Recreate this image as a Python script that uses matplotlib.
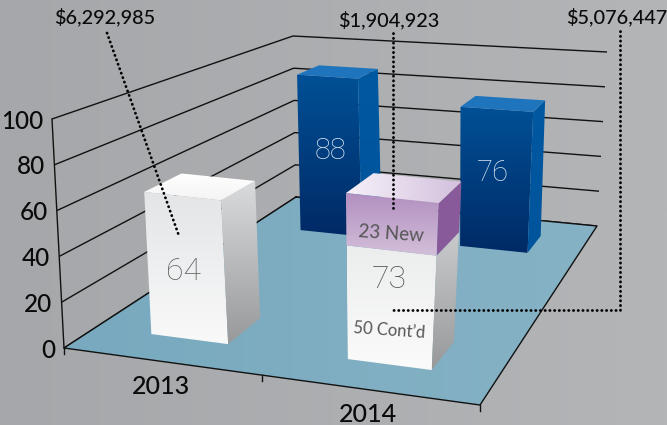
import numpy as np
import matplotlib
matplotlib.use('Agg')
import matplotlib.pyplot as plt
from matplotlib.colors import to_rgb
from matplotlib.patches import Polygon

plt.rcParams['font.family'] = ['Lato', 'DejaVu Sans']

# chart values
years = ['2013', '2014']
yticks = [0, 20, 40, 60, 80, 100]
back_values = [88, 76]
front_2013 = 64
front_2014_parts = [50, 23]
front_2014_total = 73
part_labels = ["50 Cont\u2019d", '23 New']
amounts = ['$6,292,985', '$1,904,923', '$5,076,447']

# footprints on the floor (u0, u1, v0, v1), floor runs 0-1 each way
foot_88 = (0.157, 0.353, 0.755, 0.885)
foot_76 = (0.656, 0.858, 0.760, 0.885)
foot_64 = (0.148, 0.349, 0.103, 0.234)
foot_73 = (0.647, 0.848, 0.106, 0.235)

# where the floor and the z=100 plane land in the picture (A, B, C, D)
floor_quad = [(64, 348), (480, 405), (597, 226), (296, 197)]
ceil_quad = [(52, 119), (504, 168), (607, 52), (293, 36)]


def homography(q):
    (x0, y0), (x1, y1), (x2, y2), (x3, y3) = q
    a = np.array([[x1 - x2, x3 - x2], [y1 - y2, y3 - y2]], float)
    s = np.array([x0 - x1 + x2 - x3, y0 - y1 + y2 - y3], float)
    g, h = np.linalg.solve(a, s)
    return np.array([[x1 - x0 + g * x1, x3 - x0 + h * x3, x0],
                     [y1 - y0 + g * y1, y3 - y0 + h * y3, y0],
                     [g, h, 1.0]])


H_floor = homography(floor_quad)
H_ceil = homography(ceil_quad)


def proj(u, v, z=0):
    f = H_floor @ [u, v, 1]
    c = H_ceil @ [u, v, 1]
    f = f[:2] / f[2]
    c = c[:2] / c[2]
    return tuple(f + (c - f) * z / 100)


fig = plt.figure(figsize=(6.67, 4.25), dpi=100)
ax = fig.add_axes([0, 0, 1, 1])
ax.set_autoscale_on(False)
ax.set_xlim(0, 667)
ax.set_ylim(425, 0)
ax.axis('off')

order = [1]


def gradient(pts, c1, c2, horizontal=False):
    # polygon filled with a linear gradient
    order[0] += 1
    pts = np.array(pts)
    t = np.linspace(0, 1, 64)[:, None]
    img = np.array(to_rgb(c1)) * (1 - t) + np.array(to_rgb(c2)) * t
    img = img[None, :, :] if horizontal else img[:, None, :]
    x0, y0 = pts.min(axis=0)
    x1, y1 = pts.max(axis=0)
    im = ax.imshow(img, extent=(x0, x1, y1, y0), aspect='auto', zorder=order[0], interpolation='bilinear')
    clip = Polygon(pts, closed=True, transform=ax.transData, fc='none', ec='none')
    ax.add_patch(clip)
    im.set_clip_path(clip)


def bar_segment(foot, z0, z1, front, side):
    u0, u1, v0, v1 = foot
    gradient([proj(u0, v0, z0), proj(u1, v0, z0), proj(u1, v0, z1), proj(u0, v0, z1)], front[0], front[1])
    gradient([proj(u1, v0, z0), proj(u1, v1, z0), proj(u1, v1, z1), proj(u1, v0, z1)], side[0], side[1])


def bar_top(foot, z, c1, c2, horizontal=False):
    u0, u1, v0, v1 = foot
    gradient([proj(u0, v0, z), proj(u1, v0, z), proj(u1, v1, z), proj(u0, v1, z)], c1, c2, horizontal)


# background
gradient([(0, 0), (667, 0), (667, 425), (0, 425)], '#a6a7aa', '#b4b5b7', True)

# walls
order[0] += 1
for t in yticks:
    pts = [proj(0, 0, t), proj(0, 1, t), proj(1, 1, t)]
    ax.plot(*zip(*pts), color='#111111', lw=1.0, zorder=order[0], solid_capstyle='butt')
    x, y = proj(0, 0, t)
    ax.text(x - 9, y + 2, str(t), ha='right', va='center', fontsize=17.5, fontweight='medium', color='#0a0a0a', zorder=310)
ax.plot(*zip(proj(0, 0, 100), proj(0, 0, 0)), color='#111111', lw=1.0, zorder=order[0])

# floor
gradient(floor_quad, '#78a9be', '#86b2c5', True)
order[0] += 1
ax.plot(*zip(*[proj(0, 1), proj(1, 1), proj(1, 0), proj(0, 0), proj(0, 1)]), color='#111111', lw=1.0, zorder=order[0])
for u in [0, 0.5, 1]:
    x, y = proj(u, 0)
    ax.plot([x, x], [y, y + 6], color='#111111', lw=1.0, zorder=order[0])

blue_front = ('#005096', '#002a66')
blue_side = ('#0059a2', '#00549b')
blue_top = '#1f75bd'
white_front = ('#e3e5e7', '#f9f9f9')
white_side = ('#dadbdc', '#98999b')

# back row
for foot, val in zip([foot_88, foot_76], back_values):
    bar_segment(foot, 0, val, blue_front, blue_side)
    bar_top(foot, val, blue_top, blue_top)

# front row
bar_segment(foot_64, 0, front_2013, white_front, white_side)
bar_top(foot_64, front_2013, '#ffffff', '#f4f4f4')

bar_segment(foot_73, 0, front_2014_parts[0], ('#eceded', '#fbfbfb'), ('#c9cacb', '#98999b'))
bar_segment(foot_73, front_2014_parts[0], sum(front_2014_parts), ('#b28fc0', '#d3bfda'), ('#8a5b9a', '#895a99'))
bar_top(foot_73, sum(front_2014_parts), '#f6f1f9', '#d3c0dd', True)

# leaders
dots = dict(color='black', lw=2.0, linestyle=(0, (0.1, 1.6)), dash_capstyle='round', zorder=300)
ax.plot([107, 179], [33, 236], **dots)
ax.plot([393, 393], [33, 210], **dots)
ax.plot([620, 620, 391], [31, 310, 310], **dots)

# text
label = dict(ha='center', va='center', color='#0a0a0a', zorder=310, fontweight='medium')
ax.text(105, 17, amounts[0], fontsize=14.3, **label)
ax.text(389, 20, amounts[1], fontsize=14.3, **label)
ax.text(617, 17, amounts[2], fontsize=14.3, **label)
ax.text(161, 387, years[0], fontsize=18, **label)
ax.text(368, 414, years[1], fontsize=18, **label)

thin = dict(ha='center', va='center', zorder=310, family=['Roboto', 'DejaVu Sans'], fontweight='light')
ax.text(184, 272, str(front_2013), fontsize=23, color='#666666', **thin)
ax.text(330, 151, str(back_values[0]), fontsize=21, color='#d5e3ef', **thin)
ax.text(493, 173, str(back_values[1]), fontsize=21, color='#d5e3ef', **thin)
ax.text(389, 279, str(front_2014_total), fontsize=23, color='#555555', **thin)
ax.text(391, 234, part_labels[1], ha='center', va='center', fontsize=13.5, rotation=-4, color='#555555', zorder=310)
ax.text(389, 331, part_labels[0], ha='center', va='center', fontsize=12, rotation=-4, color='#555555', zorder=310)

fig.savefig('out.png', dpi=100)
